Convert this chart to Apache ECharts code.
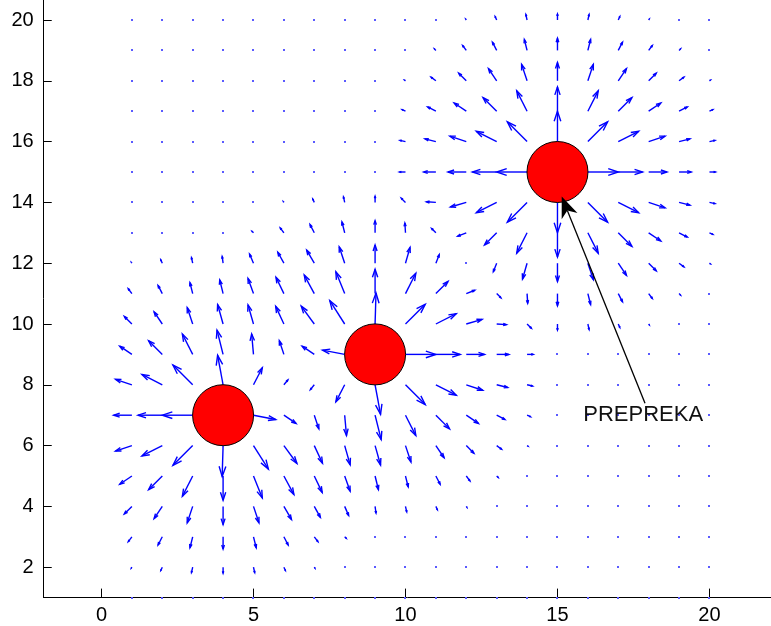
<!DOCTYPE html>
<html lang="en">
<head>
<meta charset="UTF-8">
<title>Potencijalno polje</title>
<style>
  html, body { margin: 0; padding: 0; background: #fff; }
  #main { width: 771px; height: 626px; }
</style>
</head>
<body>
<div id="main"></div>
<script src="https://cdn.jsdelivr.net/npm/echarts@6.0.0/dist/echarts.min.js"></script>
<script>
// quiver grid: columns x = 1..20, rows y = 20..1 (top to bottom)
var xs = [1, 2, 3, 4, 5, 6, 7, 8, 9, 10, 11, 12, 13, 14, 15, 16, 17, 18, 19, 20];
var ys = [20, 19, 18, 17, 16, 15, 14, 13, 12, 11, 10, 9, 8, 7, 6, 5, 4, 3, 2, 1];

// arrow components (plot units), one row per y
var U = [
  [0, 0, 0, 0, 0, 0, 0, 0, 0, 0, 0, -0.02, -0.05, -0.04, 0, 0.04, 0.05, 0.02, 0, 0],
  [0, 0, 0, 0, 0, 0, 0, 0, 0, 0, -0.05, -0.12, -0.14, -0.09, 0, 0.09, 0.14, 0.12, 0.05, 0],
  [0, 0, 0, 0, 0, 0, 0, 0, 0, -0.03, -0.16, -0.25, -0.27, -0.18, 0, 0.18, 0.27, 0.25, 0.16, 0.03],
  [0, 0, 0, 0, 0, 0, 0, 0, 0, -0.11, -0.27, -0.40, -0.45, -0.34, 0, 0.34, 0.45, 0.40, 0.27, 0.11],
  [0, 0, 0, 0, 0, 0, 0, 0, 0, -0.18, -0.36, -0.54, -0.67, -0.65, 0, 0.65, 0.67, 0.54, 0.36, 0.18],
  [0, 0, 0, 0, 0, 0, 0, 0, 0, -0.2, -0.4, -0.6, -0.8, -1, 0, 1, 0.8, 0.6, 0.4, 0.2],
  [0, 0, 0, 0, 0, -0.02, -0.05, -0.04, 0, -0.14, -0.31, -0.52, -0.67, -0.65, 0, 0.65, 0.67, 0.54, 0.36, 0.18],
  [0, 0, 0, 0, -0.05, -0.12, -0.14, -0.09, 0, -0.02, -0.14, -0.28, -0.40, -0.34, 0, 0.34, 0.45, 0.40, 0.27, 0.11],
  [-0.02, -0.05, -0.04, -0.03, -0.13, -0.20, -0.25, -0.18, 0, 0.15, 0.11, 0, -0.11, -0.15, 0, 0.18, 0.27, 0.25, 0.16, 0.03],
  [-0.12, -0.14, -0.09, -0.11, -0.18, -0.26, -0.33, -0.29, 0, 0.34, 0.40, 0.28, 0.14, 0.02, 0, 0.09, 0.14, 0.12, 0.05, 0],
  [-0.25, -0.27, -0.18, -0.18, -0.18, -0.27, -0.43, -0.49, 0.03, 0.65, 0.67, 0.52, 0.32, 0.14, 0, 0.04, 0.05, 0.02, 0, 0],
  [-0.40, -0.45, -0.34, -0.2, -0.06, -0.15, -0.40, -0.73, 0.11, 1, 0.8, 0.6, 0.4, 0.2, 0, 0, 0, 0, 0, 0],
  [-0.54, -0.67, -0.65, -0.18, 0.29, 0.13, -0.13, -0.29, 0.18, 0.65, 0.67, 0.54, 0.36, 0.18, 0, 0, 0, 0, 0, 0],
  [-0.6, -0.8, -1, -0.11, 0.73, 0.40, 0.15, 0.06, 0.2, 0.34, 0.45, 0.40, 0.27, 0.11, 0, 0, 0, 0, 0, 0],
  [-0.54, -0.67, -0.65, -0.03, 0.49, 0.43, 0.27, 0.18, 0.18, 0.18, 0.27, 0.25, 0.16, 0.03, 0, 0, 0, 0, 0, 0],
  [-0.40, -0.45, -0.34, 0, 0.29, 0.33, 0.26, 0.18, 0.11, 0.09, 0.14, 0.12, 0.05, 0, 0, 0, 0, 0, 0, 0],
  [-0.25, -0.27, -0.18, 0, 0.18, 0.25, 0.20, 0.13, 0.03, 0.04, 0.05, 0.02, 0, 0, 0, 0, 0, 0, 0, 0],
  [-0.12, -0.14, -0.09, 0, 0.09, 0.14, 0.12, 0.05, 0, 0, 0, 0, 0, 0, 0, 0, 0, 0, 0, 0],
  [-0.02, -0.05, -0.04, 0, 0.04, 0.05, 0.02, 0, 0, 0, 0, 0, 0, 0, 0, 0, 0, 0, 0, 0],
  [0, 0, 0, 0, 0, 0, 0, 0, 0, 0, 0, 0, 0, 0, 0, 0, 0, 0, 0, 0]
];
var V = [
  [0, 0, 0, 0, 0, 0, 0, 0, 0, 0, 0, 0.03, 0.11, 0.18, 0.2, 0.18, 0.11, 0.03, 0, 0],
  [0, 0, 0, 0, 0, 0, 0, 0, 0, 0, 0.05, 0.16, 0.27, 0.36, 0.4, 0.36, 0.27, 0.16, 0.05, 0],
  [0, 0, 0, 0, 0, 0, 0, 0, 0, 0.02, 0.12, 0.25, 0.40, 0.54, 0.6, 0.54, 0.40, 0.25, 0.12, 0.02],
  [0, 0, 0, 0, 0, 0, 0, 0, 0, 0.05, 0.14, 0.27, 0.45, 0.67, 0.8, 0.67, 0.45, 0.27, 0.14, 0.05],
  [0, 0, 0, 0, 0, 0, 0, 0, 0, 0.04, 0.09, 0.18, 0.34, 0.65, 1, 0.65, 0.34, 0.18, 0.09, 0.04],
  [0, 0, 0, 0, 0, 0, 0, 0, 0, 0, 0, 0, 0, 0, 0, 0, 0, 0, 0, 0],
  [0, 0, 0, 0, 0, 0.03, 0.11, 0.18, 0.2, 0.14, 0.02, -0.15, -0.34, -0.65, -1, -0.65, -0.34, -0.18, -0.09, -0.04],
  [0, 0, 0, 0, 0.05, 0.16, 0.27, 0.36, 0.4, 0.32, 0.14, -0.11, -0.40, -0.67, -0.8, -0.67, -0.45, -0.27, -0.14, -0.05],
  [0.03, 0.11, 0.18, 0.22, 0.30, 0.36, 0.43, 0.54, 0.6, 0.52, 0.28, 0, -0.28, -0.52, -0.6, -0.54, -0.40, -0.25, -0.12, -0.02],
  [0.16, 0.27, 0.36, 0.45, 0.50, 0.54, 0.61, 0.72, 0.8, 0.67, 0.40, 0.11, -0.14, -0.32, -0.4, -0.36, -0.27, -0.16, -0.05, 0],
  [0.25, 0.40, 0.54, 0.64, 0.63, 0.58, 0.59, 0.77, 1.02, 0.65, 0.34, 0.15, -0.02, -0.14, -0.2, -0.18, -0.11, -0.03, 0, 0],
  [0.27, 0.45, 0.67, 0.8, 0.67, 0.45, 0.27, 0.14, 0.05, 0, 0, 0, 0, 0, 0, 0, 0, 0, 0, 0],
  [0.18, 0.34, 0.65, 0.97, 0.56, 0.16, -0.16, -0.56, -0.97, -0.65, -0.34, -0.18, -0.09, -0.04, 0, 0, 0, 0, 0, 0],
  [0, 0, 0, -0.05, -0.14, -0.27, -0.45, -0.67, -0.8, -0.67, -0.45, -0.27, -0.14, -0.05, 0, 0, 0, 0, 0, 0],
  [-0.18, -0.34, -0.65, -1.02, -0.77, -0.59, -0.58, -0.63, -0.64, -0.54, -0.40, -0.25, -0.12, -0.02, 0, 0, 0, 0, 0, 0],
  [-0.27, -0.45, -0.67, -0.8, -0.72, -0.61, -0.54, -0.50, -0.45, -0.36, -0.27, -0.16, -0.05, 0, 0, 0, 0, 0, 0, 0],
  [-0.25, -0.40, -0.54, -0.6, -0.54, -0.43, -0.36, -0.30, -0.22, -0.18, -0.11, -0.03, 0, 0, 0, 0, 0, 0, 0, 0],
  [-0.16, -0.27, -0.36, -0.4, -0.36, -0.27, -0.16, -0.05, 0, 0, 0, 0, 0, 0, 0, 0, 0, 0, 0, 0],
  [-0.03, -0.11, -0.18, -0.2, -0.18, -0.11, -0.03, 0, 0, 0, 0, 0, 0, 0, 0, 0, 0, 0, 0, 0],
  [0, 0, 0, 0, 0, 0, 0, 0, 0, 0, 0, 0, 0, 0, 0, 0, 0, 0, 0, 0]
];

// obstacle centres (prepreke)
var obstacles = [[4, 7], [9, 9], [15, 15]];

var xTicks = [0, 5, 10, 15, 20];
var yTicks = [2, 4, 6, 8, 10, 12, 14, 16, 18, 20];

// text annotation + its pointer (data coords)
var noteText = 'PREPREKA';
var notePos = [15.85, 7.01];
var pointerFrom = [17.88, 7.39];
var pointerTo = [15.14, 14.19];

var quiver = [];
ys.forEach(function (y, i) {
  xs.forEach(function (x, j) {
    quiver.push([x, y, U[i][j], V[i][j]]);
  });
});

var BLUE = '#0000ff';

function renderArrow(params, api) {
  var x = api.value(0), y = api.value(1), u = api.value(2), v = api.value(3);
  var p0 = api.coord([x, y]);
  if (u === 0 && v === 0) {
    // zero vector -> just a dot, like matlab does
    return {
      type: 'rect',
      shape: { x: Math.round(p0[0]) - 1, y: Math.round(p0[1]) - 1, width: 2, height: 2 },
      style: { fill: '#5a5aff' }
    };
  }
  // matlab quiver head: alpha = beta = 0.33
  var a = 0.33, b = 0.33;
  var tip = api.coord([x + u, y + v]);
  var h1 = api.coord([x + u - a * (u + b * v), y + v - a * (v - b * u)]);
  var h2 = api.coord([x + u - a * (u - b * v), y + v - a * (v + b * u)]);
  return {
    type: 'group',
    children: [
      { type: 'line', shape: { x1: p0[0], y1: p0[1], x2: tip[0], y2: tip[1] },
        style: { stroke: BLUE, lineWidth: 1.4 } },
      { type: 'polyline', shape: { points: [h1, tip, h2] },
        style: { stroke: BLUE, lineWidth: 1.4, fill: null } }
    ]
  };
}

function renderPointer(params, api) {
  var p0 = api.coord([api.value(0), api.value(1)]);
  var p1 = api.coord([api.value(2), api.value(3)]);
  var dx = p1[0] - p0[0], dy = p1[1] - p0[1];
  var len = Math.sqrt(dx * dx + dy * dy);
  var ux = dx / len, uy = dy / len, nx = -uy, ny = ux;
  var L = 21, W = 8.5, notch = 15;
  var bx = p1[0] - ux * L, by = p1[1] - uy * L;
  var nPt = [p1[0] - ux * notch, p1[1] - uy * notch];
  return {
    type: 'group',
    children: [
      { type: 'line', shape: { x1: p0[0], y1: p0[1], x2: nPt[0], y2: nPt[1] },
        style: { stroke: '#000', lineWidth: 1.3 } },
      { type: 'polygon',
        shape: { points: [p1, [bx + nx * W, by + ny * W], nPt, [bx - nx * W, by - ny * W]] },
        style: { fill: '#000' } }
    ]
  };
}

function renderNote(params, api) {
  var p = api.coord([api.value(0), api.value(1)]);
  return {
    type: 'text',
    style: {
      x: p[0], y: p[1], text: noteText,
      fill: '#111', fontSize: 22, fontFamily: 'Liberation Sans, Arial, sans-serif',
      textAlign: 'left', textVerticalAlign: 'middle'
    }
  };
}

var labelFont = 'Liberation Sans, Arial, sans-serif';

var option = {
  animation: false,
  backgroundColor: '#fff',
  grid: {
    left: 43.74, right: -2.3, top: -1.28, bottom: 28.4,
    containLabel: false, outerBoundsMode: 'none'
  },
  xAxis: {
    type: 'value', min: -1.9, max: 22.1,
    axisLine: { onZero: false, lineStyle: { color: '#000', width: 1 } },
    axisTick: { inside: true, length: 9, customValues: xTicks, lineStyle: { color: '#000' } },
    axisLabel: { customValues: xTicks, color: '#000', fontSize: 20, fontFamily: labelFont, margin: 8 },
    splitLine: { show: false }
  },
  yAxis: {
    type: 'value', min: 1, max: 20.7,
    axisLine: { onZero: false, lineStyle: { color: '#000', width: 1 } },
    axisTick: { inside: true, length: 8, customValues: yTicks, lineStyle: { color: '#000' } },
    axisLabel: { customValues: yTicks, color: '#000', fontSize: 20, fontFamily: labelFont, margin: 10 },
    splitLine: { show: false }
  },
  series: [
    {
      type: 'custom', name: 'polje', z: 2, silent: true,
      dimensions: ['x', 'y', 'u', 'v'],
      encode: { x: 0, y: 1 },
      renderItem: renderArrow,
      data: quiver
    },
    {
      type: 'scatter', name: 'prepreke', z: 3, silent: true,
      symbol: 'circle', symbolSize: 61,
      itemStyle: { color: '#ff0000', borderColor: '#000', borderWidth: 1, opacity: 1 },
      data: obstacles
    },
    {
      type: 'custom', name: 'pointer', z: 4, silent: true,
      encode: { x: [0, 2], y: [1, 3] },
      renderItem: renderPointer,
      data: [[pointerFrom[0], pointerFrom[1], pointerTo[0], pointerTo[1]]]
    },
    {
      type: 'custom', name: 'note', z: 4, silent: true,
      encode: { x: 0, y: 1 },
      renderItem: renderNote,
      data: [notePos]
    }
  ]
};

var myChart = echarts.init(document.getElementById('main'));
myChart.setOption(option);
</script>
</body>
</html>
